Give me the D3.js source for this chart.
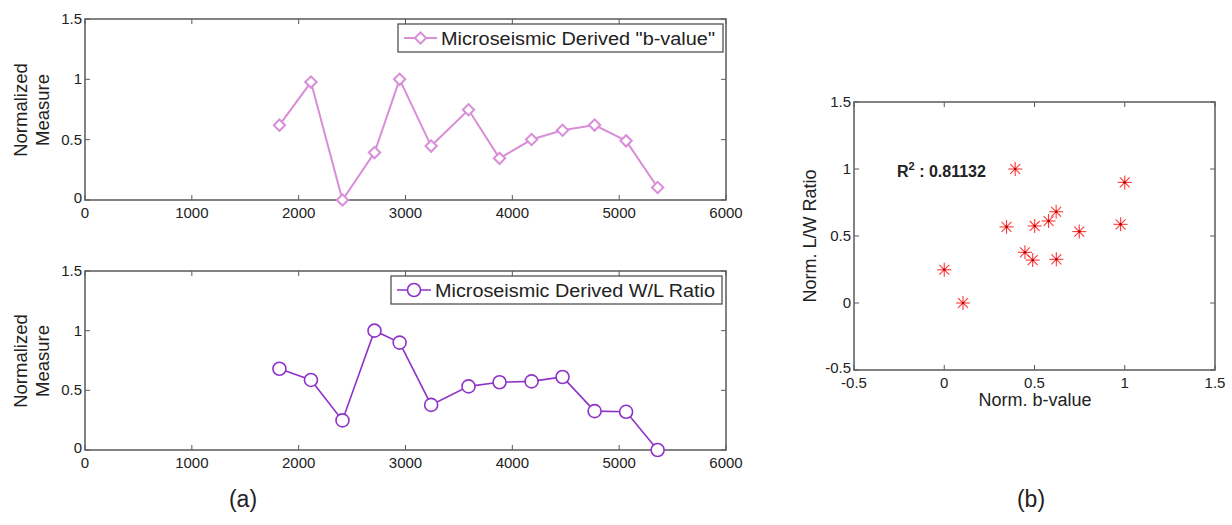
<!DOCTYPE html>
<html>
<head>
<meta charset="utf-8">
<script src="https://cdn.jsdelivr.net/npm/d3@7/dist/d3.min.js"></script>
<style>
  body { margin: 0; background: #fff; }
  text { font-family: "Liberation Sans", Arial, sans-serif; fill: #222; }
</style>
</head>
<body>
<div id="canvas"></div>
<script>
var depth = [1820, 2115, 2410, 2710, 2945, 3240, 3590, 3880, 4180, 4470, 4770, 5065, 5360];
var bValue = [0.62, 0.977, 0, 0.393, 1.0, 0.447, 0.748, 0.345, 0.501, 0.578, 0.621, 0.49, 0.104];
var wlRatio = [0.681, 0.587, 0.248, 1.0, 0.9, 0.378, 0.533, 0.568, 0.575, 0.612, 0.326, 0.32, 0];
var depthTicks = [0, 1000, 2000, 3000, 4000, 5000, 6000];
var measureTicks = [0, 0.5, 1, 1.5];
var scatterTicks = [-0.5, 0, 0.5, 1, 1.5];

var width = 1232, height = 525;
var axisColor = "#5a5a5a";
var svg = d3.select("#canvas").append("svg").attr("width", width).attr("height", height);

// draws a matlab style box with inward ticks
var drawBox = function(x, y, xTicks, yTicks) {
	var x0 = x.range()[0], x1 = x.range()[1];
	var y0 = y.range()[0], y1 = y.range()[1];
	var g = svg.append("g");
	g.append("rect").attr("x", x0).attr("y", y1)
		.attr("width", x1 - x0).attr("height", y0 - y1)
		.attr("fill", "none").attr("stroke", axisColor).attr("stroke-width", 1.5);
	xTicks.forEach(function(t) {
		g.append("line").attr("x1", x(t)).attr("x2", x(t)).attr("y1", y0).attr("y2", y0 - 5)
			.attr("stroke", axisColor);
		g.append("line").attr("x1", x(t)).attr("x2", x(t)).attr("y1", y1).attr("y2", y1 + 5)
			.attr("stroke", axisColor);
		g.append("text").attr("x", x(t)).attr("y", y0 + 18)
			.attr("text-anchor", "middle").style("font-size", "15px").text(t);
	});
	yTicks.forEach(function(t, i) {
		g.append("line").attr("x1", x0).attr("x2", x0 + 5).attr("y1", y(t)).attr("y2", y(t))
			.attr("stroke", axisColor);
		g.append("line").attr("x1", x1).attr("x2", x1 - 5).attr("y1", y(t)).attr("y2", y(t))
			.attr("stroke", axisColor);
		g.append("text").attr("x", x0 - 3).attr("y", y(t) + (i === 0 ? 3 : 5))
			.attr("text-anchor", "end").style("font-size", "15px").text(t);
	});
	return g;
};

var drawYLabel = function(cx, cy, lines) {
	var t = svg.append("text").attr("transform", "translate(" + cx + "," + cy + ") rotate(-90)")
		.attr("text-anchor", "middle").style("font-size", "18.5px");
	lines.forEach(function(l, i) {
		t.append("tspan").attr("x", 0).attr("dy", i === 0 ? 0 : 22).text(l);
	});
};

// ---- top panel: b-value ----
var xTop = d3.scaleLinear().domain([0, 6000]).range([85, 726]);
var yTop = d3.scaleLinear().domain([0, 1.5]).range([200, 19]);
drawBox(xTop, yTop, depthTicks, measureTicks);
drawYLabel(27, 110, ["Normalized", "Measure"]);

var bColor = "#d88ed8";
var line = d3.line();
svg.append("path")
	.attr("d", line(depth.map(function(d, i) { return [xTop(d), yTop(bValue[i])]; })))
	.attr("fill", "none").attr("stroke", bColor).attr("stroke-width", 2);
svg.selectAll(".bmark").data(depth).enter().append("path")
	.attr("class", "bmark")
	.attr("d", d3.symbol().type(d3.symbolSquare).size(64))
	.attr("transform", function(d, i) { return "translate(" + xTop(d) + "," + yTop(bValue[i]) + ") rotate(45)"; })
	.attr("fill", "#fff").attr("stroke", bColor).attr("stroke-width", 2);

// legend top
svg.append("rect").attr("x", 398).attr("y", 24).attr("width", 325).attr("height", 28)
	.attr("fill", "#fff").attr("stroke", "#444").attr("stroke-width", 1.2);
svg.append("line").attr("x1", 404).attr("x2", 437).attr("y1", 38).attr("y2", 38)
	.attr("stroke", bColor).attr("stroke-width", 2);
svg.append("path").attr("d", d3.symbol().type(d3.symbolSquare).size(64)())
	.attr("transform", "translate(420.5,38) rotate(45)")
	.attr("fill", "#fff").attr("stroke", bColor).attr("stroke-width", 2);
svg.append("text").attr("x", 441).attr("y", 44.5).style("font-size", "17.5px")
	.attr("textLength", 274).attr("lengthAdjust", "spacingAndGlyphs")
	.text("Microseismic Derived \"b-value\"");

// ---- bottom panel: W/L ratio ----
var xBot = d3.scaleLinear().domain([0, 6000]).range([85, 726]);
var yBot = d3.scaleLinear().domain([0, 1.5]).range([450, 271]);
drawBox(xBot, yBot, depthTicks, measureTicks);
drawYLabel(27, 361, ["Normalized", "Measure"]);

var wColor = "#8e32c8";
svg.append("path")
	.attr("d", line(depth.map(function(d, i) { return [xBot(d), yBot(wlRatio[i])]; })))
	.attr("fill", "none").attr("stroke", wColor).attr("stroke-width", 1.6);
svg.selectAll(".wmark").data(depth).enter().append("circle")
	.attr("class", "wmark")
	.attr("cx", function(d) { return xBot(d); })
	.attr("cy", function(d, i) { return yBot(wlRatio[i]); })
	.attr("r", 6.5)
	.attr("fill", "#fff").attr("stroke", wColor).attr("stroke-width", 1.6);

// legend bottom
svg.append("rect").attr("x", 391).attr("y", 276).attr("width", 331).attr("height", 28)
	.attr("fill", "#fff").attr("stroke", "#444").attr("stroke-width", 1.2);
svg.append("line").attr("x1", 397).attr("x2", 431).attr("y1", 290).attr("y2", 290)
	.attr("stroke", wColor).attr("stroke-width", 1.6);
svg.append("circle").attr("cx", 414).attr("cy", 290).attr("r", 6.5)
	.attr("fill", "#fff").attr("stroke", wColor).attr("stroke-width", 1.6);
svg.append("text").attr("x", 435).attr("y", 296.5).style("font-size", "17.5px")
	.attr("textLength", 280).attr("lengthAdjust", "spacingAndGlyphs")
	.text("Microseismic Derived W/L Ratio");

// ---- scatter panel ----
var xS = d3.scaleLinear().domain([-0.5, 1.5]).range([854, 1215]);
var yS = d3.scaleLinear().domain([-0.5, 1.5]).range([370, 102]);
drawBox(xS, yS, scatterTicks, scatterTicks);

svg.append("text").attr("x", 1035).attr("y", 406).attr("text-anchor", "middle")
	.style("font-size", "18px").text("Norm. b-value");
svg.append("text").attr("transform", "translate(816,236) rotate(-90)")
	.attr("text-anchor", "middle").style("font-size", "18px").text("Norm. L/W Ratio");

var starColor = "#ff3a3a";
var star = svg.selectAll(".star").data(bValue).enter().append("g")
	.attr("class", "star")
	.attr("transform", function(d, i) { return "translate(" + xS(d) + "," + yS(wlRatio[i]) + ")"; });
[0, 45, 90, 135].forEach(function(a) {
	star.append("line").attr("x1", -7).attr("x2", 7).attr("y1", 0).attr("y2", 0)
		.attr("transform", "rotate(" + a + ")")
		.attr("stroke", starColor).attr("stroke-width", 1.1);
});
star.append("circle").attr("r", 1.3).attr("fill", "#b00000");

var r2 = svg.append("text").attr("x", 897).attr("y", 177)
	.style("font-size", "16px").style("font-weight", "bold");
r2.append("tspan").text("R");
r2.append("tspan").attr("dy", -7).style("font-size", "11px").text("2");
r2.append("tspan").attr("dy", 7).text(" : 0.81132");

// panel captions
svg.append("text").attr("x", 243).attr("y", 507).attr("text-anchor", "middle")
	.style("font-size", "23px").text("(a)");
svg.append("text").attr("x", 1031).attr("y", 507).attr("text-anchor", "middle")
	.style("font-size", "23px").text("(b)");
</script>
</body>
</html>
